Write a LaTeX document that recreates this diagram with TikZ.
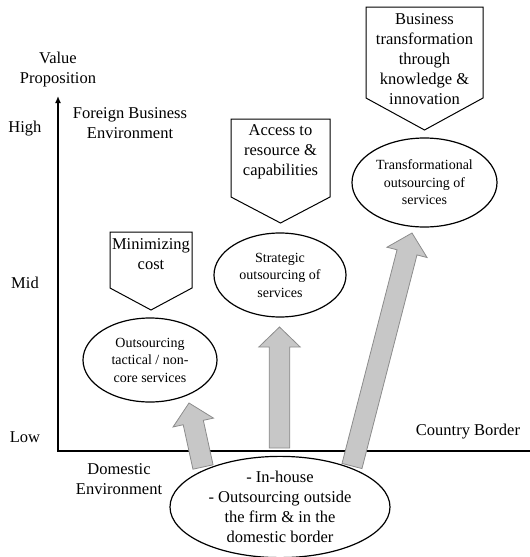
\documentclass[tikz,border=0pt]{standalone}
\usepackage{fontspec}
\setmainfont{Liberation Serif}
\usetikzlibrary{calc,arrows.meta,shapes.geometric}
\tikzset{
 lbl/.style={font=\fontsize{16.5}{20}\selectfont, align=center, inner sep=0pt},
 elltxt/.style={font=\fontsize{14}{17.5}\selectfont, align=center},
 oval/.style={draw, ellipse, line width=1.2pt, inner sep=0pt, fill=white},
 pent/.style={draw, line width=1pt, fill=white, line join=miter},
 fatarrow/.style={fill=black!22, draw=black!45, line width=0.8pt, line join=miter},
 axisline/.style={line width=1.8pt, line join=miter},
}
\newcommand\fatarr[2]{%
  \coordinate (#2-h) at ($(#2)!20pt!(#1)$);
  \draw[fatarrow] ($(#1)!10.3pt!90:(#2)$) -- ($(#2-h)!10.3pt!90:(#2)$)
    -- ($(#2-h)!20.7pt!90:(#2)$) -- (#2) -- ($(#2-h)!20.7pt!-90:(#2)$)
    -- ($(#2-h)!10.3pt!-90:(#2)$) -- ($(#1)!10.3pt!-90:(#2)$) -- cycle;
}
\begin{document}
\begin{tikzpicture}[x=1pt,y=-1pt]
\useasboundingbox (0,0) rectangle (530,557);

% axes
\coordinate (origin) at (58,451);
\coordinate (ytop) at (58,96);
\coordinate (xend) at (530,451);
\draw[axisline, {Latex[length=7pt,width=6pt]}-] (ytop) -- (origin) -- (xend);

% axis labels
\node[lbl] (vp) at (58,70) {Value\\Proposition};
\node[lbl] (high) at (25,129) {High};
\node[lbl] (mid) at (25,283) {Mid};
\node[lbl] (low) at (25,437) {Low};
\node[lbl] (fbe) at (130,123.5) {Foreign Business\\Environment};
\node[lbl] (dom) at (119,479.5) {Domestic\\Environment};
\node[lbl] (cb) at (468,432) {Country Border};

% pentagons
\draw[pent] (110,232) -- (192,232) -- (192,288) -- (151,310) -- (110,288) -- cycle;
\node[lbl] (p1) at (151,254.5) {Minimizing\\cost};
\draw[pent] (231,119) -- (330,119) -- (330,197) -- (280.5,223) -- (231,197) -- cycle;
\node[lbl] (p2) at (280.5,152) {Access to\\resource \&\\capabilities};
\draw[pent] (366,7) -- (483,7) -- (483,98) -- (424.5,130) -- (366,98) -- cycle;
\node[lbl] (p3) at (424.5,59) {Business\\transformation\\through\\knowledge \&\\innovation};

% fat arrows
\coordinate (a1s) at (203,467);
\coordinate (a1e) at (189,403);
\coordinate (a2s) at (279.5,448);
\coordinate (a2e) at (279.5,327);
\coordinate (a3s) at (352,466);
\coordinate (a3e) at (412,233);
\fatarr{a1s}{a1e}
\fatarr{a2s}{a2e}
\fatarr{a3s}{a3e}

% ellipses
\node[oval, minimum width=134pt, minimum height=84pt, elltxt] (e1) at (150,360)
  {Outsourcing\\tactical / non-\\core services};
\node[oval, minimum width=132pt, minimum height=84pt, elltxt] (e2) at (280,275)
  {Strategic\\outsourcing of\\services};
\node[oval, minimum width=145pt, minimum height=89pt, elltxt] (e3) at (424.5,182.5)
  {Transformational\\outsourcing of\\services};
\node[oval, minimum width=220pt, minimum height=98pt, lbl] (e0) at (280,507)
  {- In-house\\- Outsourcing outside\\the firm \& in the\\domestic border};
\end{tikzpicture}
\end{document}
